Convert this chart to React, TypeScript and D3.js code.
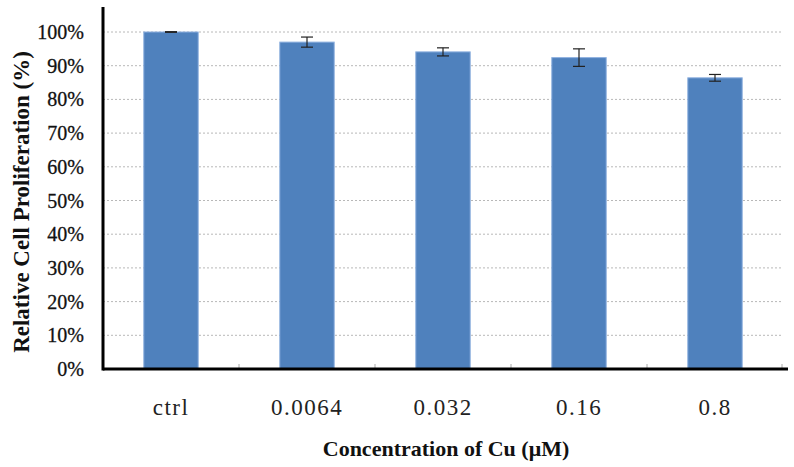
import React from "react";
import * as d3 from "d3";

const categories = ["ctrl", "0.0064", "0.032", "0.16", "0.8"];
const values = [100, 97.0, 94.1, 92.4, 86.4];
const errors = [0.1, 1.5, 1.2, 2.6, 1.0];
const yTicks = [0, 10, 20, 30, 40, 50, 60, 70, 80, 90, 100];

export default function App() {
  const W = 794, H = 467;
  const left = 103, right = 783, top = 32, bottom = 369;
  const x = d3.scaleBand<string>().domain(categories).range([left, right]).paddingInner(0.6).paddingOuter(0.3);
  const xb = d3.scaleBand<string>().domain(categories).range([left, right]);
  const y = d3.scaleLinear().domain([0, 100]).range([bottom, top]);
  const serif = "'Liberation Serif', 'Times New Roman', serif";
  return (
    <svg width={W} height={H} style={{ position: "absolute", left: 0, top: 0, background: "#fff" }}>
      {yTicks.filter(t => t > 0).map(t => (
        <line key={"g" + t} x1={left} x2={right} y1={y(t)} y2={y(t)} stroke="#b8b8b8" strokeWidth={1} strokeDasharray="2,2" />
      ))}
      {categories.map((c, i) => (
        <g key={c}>
          <rect x={x(c)} y={y(values[i])} width={x.bandwidth()} height={bottom - y(values[i])} fill="#4F81BD" stroke="#8DB0DF" strokeWidth={1} />
        </g>
      ))}
      {categories.map((c, i) => {
        const cx = (x(c) as number) + x.bandwidth() / 2;
        const y1 = y(values[i] + errors[i]);
        const y2 = y(values[i] - errors[i]);
        return (
          <g key={"e" + c} stroke="#222" strokeWidth={1.2}>
            <line x1={cx} x2={cx} y1={y1} y2={y2} />
            <line x1={cx - 6} x2={cx + 6} y1={y1} y2={y1} />
            <line x1={cx - 6} x2={cx + 6} y1={y2} y2={y2} />
          </g>
        );
      })}
      {categories.slice(1).map(c => (
        <line key={"t" + c} x1={xb(c)} x2={xb(c)} y1={bottom} y2={bottom - 5} stroke="#aaa" />
      ))}
      <line x1={right - 1} x2={right - 1} y1={bottom} y2={bottom - 5} stroke="#aaa" />
      <line x1={left} x2={left} y1={7} y2={bottom + 1.5} stroke="#000" strokeWidth={3} />
      <line x1={left} x2={788} y1={bottom} y2={bottom} stroke="#000" strokeWidth={3} />
      {yTicks.map(t => (
        <text key={"yl" + t} x={84} y={y(t) + 7} textAnchor="end" fontFamily={serif} fontSize={20} fill="#111" stroke="#111" strokeWidth={0.3}>{t}%</text>
      ))}
      {categories.map(c => (
        <text key={"xl" + c} x={(xb(c) as number) + xb.bandwidth() / 2} y={415} textAnchor="middle" fontFamily={serif} fontSize={23} letterSpacing={1.5} fill="#222">{c}</text>
      ))}
      <text x={446} y={456} textAnchor="middle" fontFamily={serif} fontWeight="bold" fontSize={22} fill="#111">Concentration of Cu (μM)</text>
      <text transform={`translate(29,202) rotate(-90)`} textAnchor="middle" fontFamily={serif} fontWeight="bold" fontSize={23} fill="#111">Relative Cell Proliferation (%)</text>
    </svg>
  );
}
